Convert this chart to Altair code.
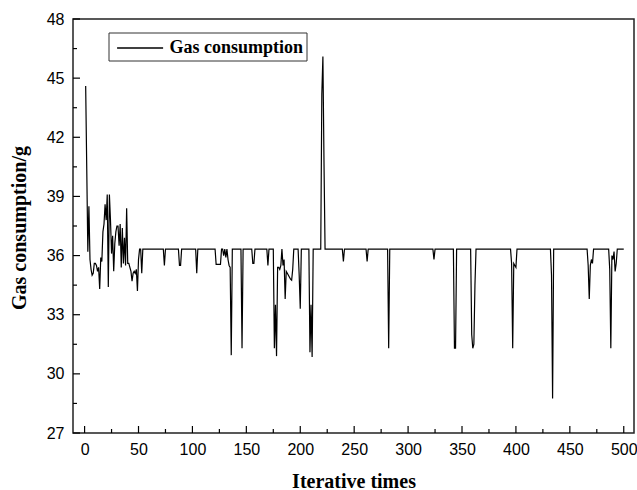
import altair as alt
import pandas as pd

# ---------------- data ----------------
iterations = list(range(1, 501))
gas = [
    44.6, 40.4, 36.2, 38.5, 35.8, 35.3, 35.0, 35.1, 35.6, 35.6,
    35.5, 35.2, 35.4, 34.3, 35.9, 35.7, 37.2, 37.6, 38.6, 37.8,
    39.1, 34.4, 39.1, 37.8, 36.1, 37.0, 35.2, 36.6, 37.2, 37.5,
    37.5, 36.5, 37.6, 35.4, 37.4, 35.6, 36.9, 35.5, 38.4, 35.6,
    35.6, 35.4, 35.2, 34.7, 35.1, 35.2, 35.1, 35.3, 34.2, 35.8,
    36.33, 36.33, 35.1, 36.33, 36.33, 36.33, 36.33, 36.33, 36.33, 36.33,
    36.33, 36.33, 36.33, 36.33, 36.33, 36.33, 36.33, 36.33, 36.33, 36.33,
    36.33, 36.33, 36.33, 35.5, 36.33, 36.33, 36.33, 36.33, 36.33, 36.33,
    36.33, 36.33, 36.33, 36.33, 36.33, 36.33, 36.33, 35.5, 35.5, 36.33,
    36.33, 36.33, 36.33, 36.33, 36.33, 36.33, 36.33, 36.33, 36.33, 36.33,
    36.33, 36.33, 36.33, 35.1, 36.33, 36.33, 36.33, 36.33, 36.33, 36.33,
    36.33, 36.33, 36.33, 36.33, 36.33, 36.33, 36.33, 36.33, 36.33, 36.33,
    36.33, 35.55, 35.55, 35.55, 35.55, 35.55, 36.33, 36.33, 36.0, 36.33,
    35.9, 36.33, 35.8, 35.5, 35.4, 30.95, 36.33, 36.33, 36.33, 36.33,
    36.33, 36.33, 36.33, 36.33, 36.33, 31.3, 36.33, 36.33, 36.33, 36.33,
    36.33, 36.33, 36.33, 36.33, 36.33, 35.6, 35.6, 36.33, 36.33, 36.33,
    36.33, 36.33, 36.33, 36.33, 36.33, 36.33, 36.33, 36.33, 36.33, 35.5,
    36.33, 36.33, 36.33, 36.33, 36.33, 31.3, 33.5, 30.9, 35.4, 35.4,
    35.3, 35.5, 36.33, 35.5, 35.8, 33.8, 35.2, 35.1, 35.0, 34.9,
    34.8, 34.75, 35.3, 36.33, 36.33, 36.33, 36.33, 36.33, 35.0, 33.3,
    36.33, 36.33, 36.33, 36.33, 36.33, 36.33, 36.33, 36.33, 31.1, 33.5,
    30.85, 36.33, 36.33, 36.33, 36.33, 36.33, 36.33, 36.33, 36.33, 44.2,
    46.1, 40.8, 36.33, 36.33, 36.33, 36.33, 36.33, 36.33, 36.33, 36.33,
    36.33, 36.33, 36.33, 36.33, 36.33, 36.33, 36.33, 36.33, 36.33, 35.7,
    36.33, 36.33, 36.33, 36.33, 36.33, 36.33, 36.33, 36.33, 36.33, 36.33,
    36.33, 36.33, 36.33, 36.33, 36.33, 36.33, 36.33, 36.33, 36.33, 36.33,
    36.33, 35.7, 36.33, 36.33, 36.33, 36.33, 36.33, 36.33, 36.33, 36.33,
    36.33, 36.33, 36.33, 36.33, 36.33, 36.33, 36.33, 36.33, 36.33, 36.33,
    36.33, 31.3, 36.33, 36.33, 36.33, 36.33, 36.33, 36.33, 36.33, 36.33,
    36.33, 36.33, 36.33, 36.33, 36.33, 36.33, 36.33, 36.33, 36.33, 36.33,
    36.33, 36.33, 36.33, 36.33, 36.33, 36.33, 36.33, 36.33, 36.33, 36.33,
    36.33, 36.33, 36.33, 36.33, 36.33, 36.33, 36.33, 36.33, 36.33, 36.33,
    36.33, 36.33, 36.33, 35.8, 36.33, 36.33, 36.33, 36.33, 36.33, 36.33,
    36.33, 36.33, 36.33, 36.33, 36.33, 36.33, 36.33, 36.33, 36.33, 36.33,
    36.33, 36.33, 31.3, 31.3, 36.33, 36.33, 36.33, 36.33, 36.33, 36.33,
    36.33, 36.33, 36.33, 36.33, 36.33, 36.33, 36.33, 36.33, 32.0, 31.3,
    31.5, 34.5, 36.33, 36.33, 36.33, 36.33, 36.33, 36.33, 36.33, 36.33,
    36.33, 36.33, 36.33, 36.33, 36.33, 36.33, 36.33, 36.33, 36.33, 36.33,
    36.33, 36.33, 36.33, 36.33, 36.33, 36.33, 36.33, 36.33, 36.33, 36.33,
    36.33, 36.33, 36.33, 36.33, 36.33, 35.6, 31.3, 35.6, 35.5, 35.4,
    36.33, 36.33, 36.33, 36.33, 36.33, 36.33, 36.33, 36.33, 36.33, 36.33,
    36.33, 36.33, 36.33, 36.33, 36.33, 36.33, 36.33, 36.33, 36.33, 36.33,
    36.33, 36.33, 36.33, 36.33, 36.33, 36.33, 36.33, 36.33, 36.33, 36.33,
    36.33, 36.33, 35.0, 28.75, 36.33, 36.33, 36.33, 36.33, 36.33, 36.33,
    36.33, 36.33, 36.33, 36.33, 36.33, 36.33, 36.33, 36.33, 36.33, 36.33,
    36.33, 36.33, 36.33, 36.33, 36.33, 36.33, 36.33, 36.33, 36.33, 36.33,
    36.33, 36.33, 36.33, 36.33, 36.33, 36.33, 35.5, 33.8, 35.5, 35.8,
    35.6, 36.33, 36.33, 36.33, 36.33, 36.33, 36.33, 36.33, 36.33, 36.33,
    36.33, 36.33, 36.33, 36.33, 36.33, 36.33, 35.3, 31.3, 36.0, 35.8,
    36.2, 35.2, 35.6, 36.33, 36.33, 36.33, 36.33, 36.33, 36.33, 36.33,
]
series_name = "Gas consumption"

x_major = [0, 50, 100, 150, 200, 250, 300, 350, 400, 450, 500]
x_minor = [25, 75, 125, 175, 225, 275, 325, 375, 425, 475]
y_major = [27, 30, 33, 36, 39, 42, 45, 48]
y_minor = [28.5, 31.5, 34.5, 37.5, 40.5, 43.5, 46.5]

x_title = "Iterative times"
y_title = "Gas consumption/g"

# ---------------- chart ----------------
W, H = 561, 414
df = pd.DataFrame({"iter": iterations, "gas": gas, "series": [series_name] * len(iterations)})

xs = alt.Scale(domain=[-10.75, 509.5], nice=False, zero=False)
ys = alt.Scale(domain=[27, 48], nice=False, zero=False)

x_axis = alt.Axis(values=x_major, title=x_title, titleX=W / 2, titleY=54,
                  titleBaseline="alphabetic", titleAlign="center", labelPadding=8)
y_axis = alt.Axis(values=y_major, title=y_title, titleX=-47.5, titleY=H / 2 + 1.5,
                  titleAngle=270, titleBaseline="alphabetic", titleAlign="center",
                  labelPadding=9)

line = alt.Chart(df).mark_line(strokeWidth=1.2, clip=True).encode(
    x=alt.X("iter:Q", scale=xs, axis=x_axis),
    y=alt.Y("gas:Q", scale=ys, axis=y_axis),
    color=alt.Color(
        "series:N",
        scale=alt.Scale(range=["black"]),
        legend=alt.Legend(
            orient="none", legendX=35.5, legendY=13.5, title=None,
            symbolType="M-0.6,0H3.4", symbolSize=529, symbolStrokeWidth=1.5,
            symbolStrokeColor="black",
            labelFont="Liberation Serif", labelFontWeight="bold", labelFontSize=18,
            labelColor="black", labelOffset=33, strokeColor="#333",
            fillColor="white", padding=3,
        ),
    ),
)

xt_major = alt.Chart(pd.DataFrame({"iter": x_major})).mark_rule(color="black", strokeWidth=1.2).encode(
    x=alt.X("iter:Q", scale=xs), y=alt.value(H), y2=alt.value(H - 7))
xt_minor = alt.Chart(pd.DataFrame({"iter": x_minor})).mark_rule(color="black", strokeWidth=1.2).encode(
    x=alt.X("iter:Q", scale=xs), y=alt.value(H), y2=alt.value(H - 4))
yt_major = alt.Chart(pd.DataFrame({"gas": y_major})).mark_rule(color="black", strokeWidth=1.2).encode(
    y=alt.Y("gas:Q", scale=ys), x=alt.value(0), x2=alt.value(7))
yt_minor = alt.Chart(pd.DataFrame({"gas": y_minor})).mark_rule(color="black", strokeWidth=1.2).encode(
    y=alt.Y("gas:Q", scale=ys), x=alt.value(0), x2=alt.value(4))

chart = alt.layer(line, xt_major, xt_minor, yt_major, yt_minor).properties(
    width=W, height=H,
    autosize=alt.AutoSizeParams(type="none"),
    padding={"left": 73, "top": 19, "right": 3, "bottom": 57},
    background="white",
).configure_view(
    stroke="#222", strokeWidth=1.5
).configure_axis(
    domain=False, ticks=False, grid=False,
    labelFont="Liberation Sans", labelFontSize=16, labelColor="black",
    titleFont="Liberation Serif", titleFontWeight="bold", titleFontSize=20, titleColor="black",
)

chart.save("out.html", embed_options={"renderer": "svg", "actions": False})
